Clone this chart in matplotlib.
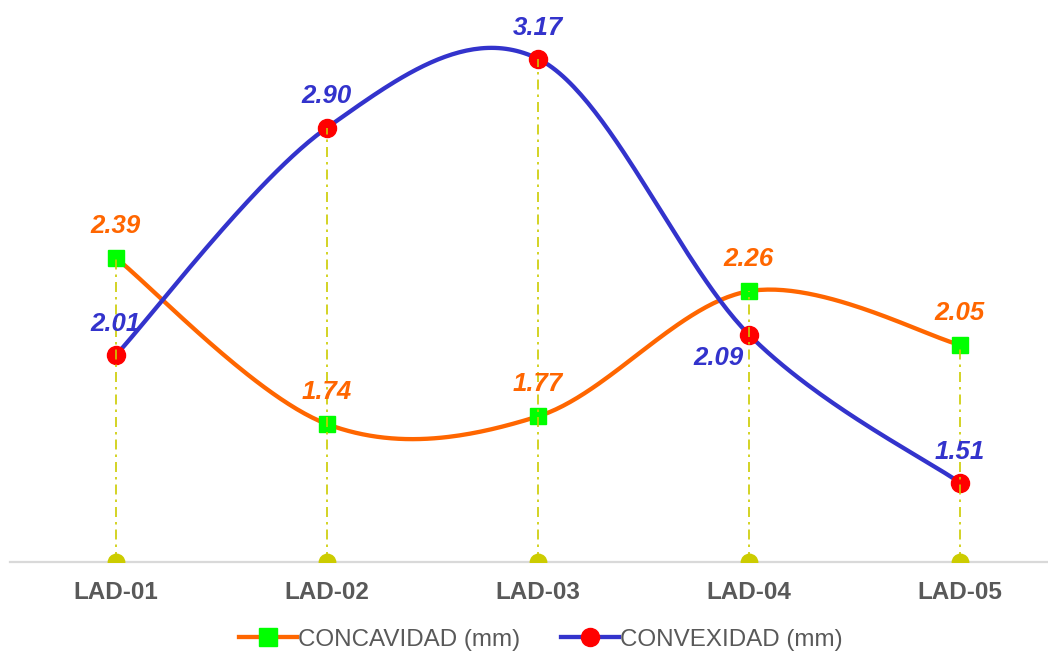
import numpy as np
import matplotlib
matplotlib.use("Agg")
import matplotlib.pyplot as plt
from matplotlib.lines import Line2D

categories = ["LAD-01", "LAD-02", "LAD-03", "LAD-04", "LAD-05"]
concavidad = [2.39, 1.74, 1.77, 2.26, 2.05]
convexidad = [2.01, 2.90, 3.17, 2.09, 1.51]
series_names = ["CONCAVIDAD (mm)", "CONVEXIDAD (mm)"]

ORANGE = "#FF6600"
BLUE = "#3333CC"
GREEN = "#00FF00"
RED = "#FF0000"
YELLOW = "#CCCC00"
GRAY = "#595959"

plt.rcParams["font.family"] = ["Liberation Sans", "DejaVu Sans"]


def smooth(xs, ys, n=60):
    """Excel-like smoothed line (Catmull-Rom as cubic Bezier)."""
    P = np.column_stack([xs, ys]).astype(float)
    m = len(P)
    out = []
    for i in range(m - 1):
        p0 = P[i - 1] if i > 0 else P[i]
        p1 = P[i]
        p2 = P[i + 1]
        p3 = P[i + 2] if i + 2 < m else P[i + 1]
        c1 = p1 + (p2 - p0) / 6.0
        c2 = p2 - (p3 - p1) / 6.0
        t = np.linspace(0, 1, n)[:, None]
        seg = ((1 - t) ** 3) * p1 + 3 * ((1 - t) ** 2) * t * c1 + 3 * (1 - t) * t ** 2 * c2 + t ** 3 * p2
        out.append(seg if i == 0 else seg[1:])
    arr = np.vstack(out)
    return arr[:, 0], arr[:, 1]


fig = plt.figure(figsize=(10.48, 6.54), dpi=100)
ax = fig.add_axes([10 / 1048, (654 - 562) / 654, 1 - 10 / 1048, 562 / 654])

x = np.arange(len(categories))
ymin, ymax = 1.2, 3.4
ax.set_xlim(-0.502, 4.417)
ax.set_ylim(ymin, ymax)

LW = 3.1
# smooth lines
sx, sy = smooth(x, concavidad)
ax.plot(sx, sy, color=ORANGE, lw=LW, zorder=3, solid_capstyle="round")
sx, sy = smooth(x, convexidad)
ax.plot(sx, sy, color=BLUE, lw=LW, zorder=3, solid_capstyle="round")

# markers
ax.plot(x, concavidad, ls="none", marker="s", ms=12, mfc=GREEN, mec=GREEN, zorder=4)
ax.plot(x, convexidad, ls="none", marker="o", ms=13, mfc=RED, mec=RED, zorder=4)

# drop lines
tops = np.maximum(concavidad, convexidad)
for xi, top in zip(x, tops):
    ax.plot([xi, xi], [ymin, top], color=YELLOW, lw=1.2, dashes=[6, 3, 1.5, 3], zorder=5)
ax.scatter(x, [ymin] * len(x), s=165, color=YELLOW, zorder=6, clip_on=True, linewidths=0)

# data labels
for xi, v in zip(x, concavidad):
    ax.annotate(f"{v:.2f}", (xi, v), xytext=(0, 23), textcoords="offset points",
                ha="center", va="center", color=ORANGE, fontsize=18.5,
                fontweight="bold", fontstyle="italic", zorder=7)
for i, (xi, v) in enumerate(zip(x, convexidad)):
    off = (-22, -17) if i == 3 else (0, 22.5)
    ax.annotate(f"{v:.2f}", (xi, v), xytext=off, textcoords="offset points",
                ha="center", va="center", color=BLUE, fontsize=18.5,
                fontweight="bold", fontstyle="italic", zorder=7)

# axes styling
for s in ["top", "right", "left"]:
    ax.spines[s].set_visible(False)
ax.spines["bottom"].set_color("#D9D9D9")
ax.spines["bottom"].set_linewidth(1.6)
ax.spines["bottom"].set_zorder(2)
ax.set_yticks([])
ax.set_xticks(x)
ax.set_xticklabels(categories, fontsize=17.5, fontweight="bold", color=GRAY)
ax.tick_params(axis="x", length=0, pad=14)

handles = [
    Line2D([], [], color=ORANGE, lw=LW, marker="s", ms=12.5, mfc=GREEN, mec=GREEN),
    Line2D([], [], color=BLUE, lw=LW, marker="o", ms=13, mfc=RED, mec=RED),
]
leg = fig.legend(handles, series_names, loc="center", bbox_to_anchor=(0.516, 0.022),
                 ncol=2, frameon=False, fontsize=17.4, handlelength=2.4,
                 handletextpad=0.05, columnspacing=1.7, borderaxespad=0)
for t in leg.get_texts():
    t.set_color(GRAY)

fig.savefig("out.png", dpi=100)
